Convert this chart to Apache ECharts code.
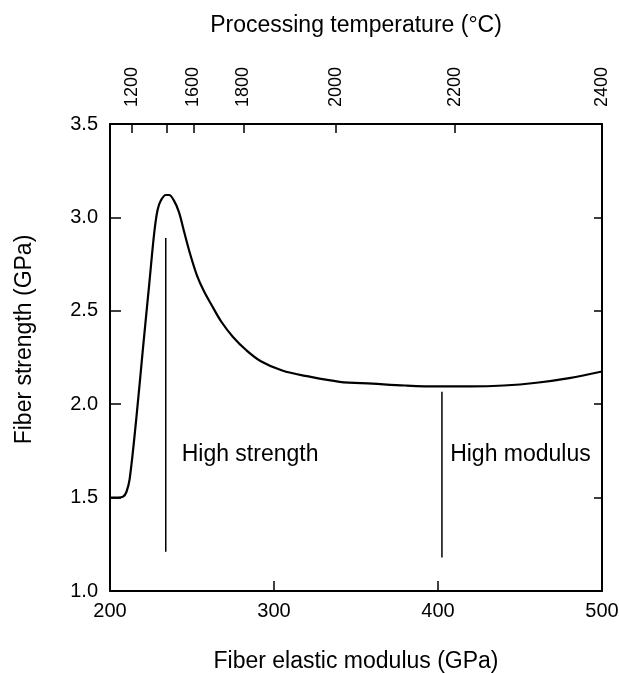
<!DOCTYPE html>
<html>
<head>
<meta charset="utf-8">
<script src="https://cdn.jsdelivr.net/npm/echarts@6/dist/echarts.min.js"></script>
<style>html,body{margin:0;padding:0;background:#fff}#c{width:619px;height:673px}</style>
</head>
<body>
<div id="c"></div>
<script>
// Fiber elastic modulus (GPa) vs fiber strength (GPa)
const curveModulus = [200,205,208,210,212,216,220,224,227,229,231,234,236,239,242,245,249,253,257,262,268,275,283,292,305,320,340,360,380,400,420,440,460,480,500];
const curveStrength = [1.5,1.5,1.505,1.53,1.6,1.92,2.29,2.65,2.92,3.04,3.09,3.12,3.12,3.09,3.03,2.93,2.80,2.69,2.61,2.53,2.44,2.36,2.29,2.23,2.18,2.15,2.12,2.11,2.10,2.095,2.095,2.10,2.115,2.14,2.175];
// Top axis: processing temperature ticks and their positions on the modulus scale
const tempTicks = [1200,1400,1600,1800,2000,2200,2400];
const tempTickLabels = ['1200','','1600','1800','2000','2200','2400'];
const tempTickModulus = [213.2,234.6,250.8,281.3,337.7,410.5,500];
// Region markers
const highStrengthLine = [[234,2.89],[234,1.21]];
const highModulusLine = [[402.4,2.067],[402.4,1.18]];
const regionLabels = ['High strength','High modulus'];
const regionLabelPos = [[243.7,1.728],[407.4,1.728]];

const font = 'Liberation Sans, Arial, sans-serif';
const chart = echarts.init(document.getElementById('c'));
chart.setOption({
  animation:false,
  backgroundColor:'#fff',
  grid:{left:110,right:17,top:124,bottom:82,containLabel:false,outerBoundsMode:'none'},
  xAxis:[{
    type:'value',min:200,max:500,interval:100,position:'bottom',
    name:'Fiber elastic modulus (GPa)',nameLocation:'middle',nameGap:59,
    nameTextStyle:{fontSize:23,color:'#000',fontFamily:font},
    axisLine:{lineStyle:{color:'#000',width:2}},
    axisTick:{inside:true,length:10,lineStyle:{color:'#000',width:1.5}},
    axisLabel:{fontSize:20,color:'#000',fontFamily:font,margin:10},
    splitLine:{show:false}
  },{
    type:'value',min:200,max:500,position:'top',
    name:'Processing temperature (°C)',nameLocation:'middle',nameGap:87,
    nameTextStyle:{fontSize:23,color:'#000',fontFamily:font},
    axisLine:{lineStyle:{color:'#000',width:2}},
    axisTick:{inside:true,length:9,customValues:tempTickModulus,lineStyle:{color:'#000',width:1.5}},
    axisLabel:{rotate:-90,fontSize:18,color:'#000',fontFamily:font,margin:17,
      customValues:tempTickModulus,
      formatter:function(v){
        let best=0;
        for(let i=0;i<tempTickModulus.length;i++){ if(Math.abs(tempTickModulus[i]-v)<Math.abs(tempTickModulus[best]-v)) best=i; }
        return tempTickLabels[best];
      }},
    splitLine:{show:false}
  }],
  yAxis:[{
    type:'value',min:1,max:3.5,interval:0.5,position:'left',
    name:'Fiber strength (GPa)',nameLocation:'middle',nameGap:74,
    nameTextStyle:{fontSize:23,color:'#000',fontFamily:font,padding:[0,0,0,36]},
    axisLine:{lineStyle:{color:'#000',width:2}},
    axisTick:{inside:true,length:11,lineStyle:{color:'#000',width:1.5}},
    axisLabel:{fontSize:20,color:'#000',fontFamily:font,margin:12,formatter:v=>v.toFixed(1)},
    splitLine:{show:false}
  },{
    type:'value',min:1,max:3.5,interval:0.5,position:'right',
    axisLine:{show:true,lineStyle:{color:'#000',width:2}},
    axisTick:{show:true,inside:true,length:8,lineStyle:{color:'#000',width:1.5}},
    axisLabel:{show:false},
    splitLine:{show:false}
  }],
  series:[{
    type:'line',smooth:0.35,symbol:'none',
    data:curveModulus.map((x,i)=>[x,curveStrength[i]]),
    lineStyle:{color:'#000',width:2.2}
  },{
    type:'line',symbol:'none',data:highStrengthLine,lineStyle:{color:'#000',width:1.5}
  },{
    type:'line',symbol:'none',data:highModulusLine,lineStyle:{color:'#000',width:1.5}
  }]
});
const texts = regionLabelPos.map((p,i)=>{
  const px = chart.convertToPixel({xAxisIndex:0,yAxisIndex:0}, p);
  return {type:'text',x:px[0],y:px[1],
    style:{text:regionLabels[i],fill:'#000',font:'23px '+font,textAlign:'left',textVerticalAlign:'middle'}};
});
chart.setOption({graphic:texts});
</script>
</body>
</html>
